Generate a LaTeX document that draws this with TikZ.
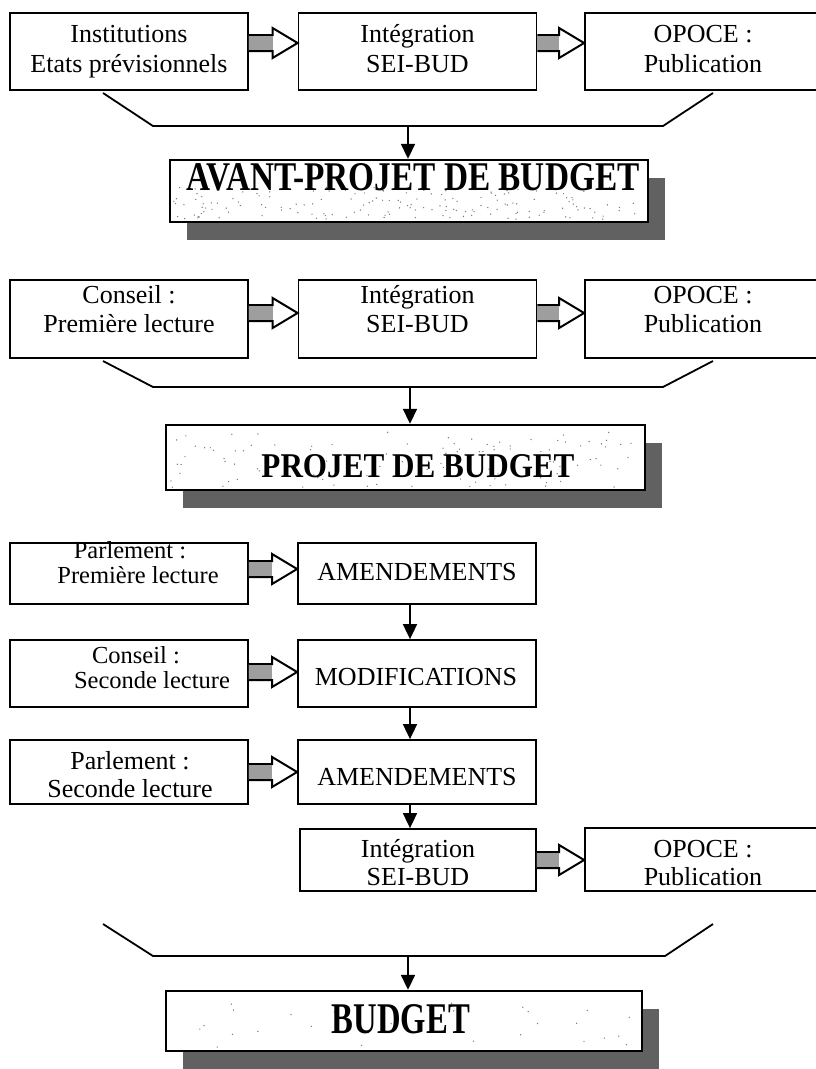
\documentclass[tikz,border=0pt]{standalone}
\usepackage{graphicx}
\usepackage{fontspec}
\setmainfont{Liberation Serif}
\usetikzlibrary{arrows.meta,shadows,calc}

\newcommand\blockarrow[3]{%
  \coordinate (ba-s) at (#1.east |- 0,#3);
  \coordinate (ba-t) at (#2.west |- 0,#3);
  \draw[blk] ([yshift=8pt]ba-s) -- ([xshift=-25pt,yshift=8pt]ba-t) -- ([xshift=-25pt,yshift=15pt]ba-t) -- (ba-t) -- ([xshift=-25pt,yshift=-15pt]ba-t) -- ([xshift=-25pt,yshift=-8pt]ba-t) -- ([yshift=-8pt]ba-s);
  \fill[shaft] ([yshift=7pt]ba-s) rectangle ([xshift=-25pt,yshift=-7pt]ba-t);
}
% speckle texture inside a title box: #1 node, #2 count, #3 width, #4 height
\newcommand\speckle[4]{%
  \foreach \i in {1,...,#2}{%
    \fill[speck] ($(#1.south west)+({5+(#3-10)*rnd},{-4-(#4-8)*rnd})$) circle (0.7pt);
  }%
}

\begin{document}
\begin{tikzpicture}[x=1pt,y=-1pt,
  box/.style={draw, line width=1.8pt, rectangle, inner sep=0pt, fill=white},
  title/.style={draw, line width=2.4pt, rectangle, inner sep=0pt, fill=white,
    drop shadow={shadow xshift=17pt, shadow yshift=-18pt, fill=black!62, opacity=1}},
  txt/.style={inner sep=0pt, anchor=base, font=\fontsize{26}{30}\selectfont},
  small/.style={inner sep=0pt, anchor=base, font=\fontsize{24.5}{28}\selectfont},
  ttl/.style={inner sep=0pt, anchor=base, font=\fontsize{30}{36}\selectfont\bfseries},
  bracket/.style={line width=1.8pt, line join=miter},
  arr/.style={line width=1.8pt, -{Triangle[width=14pt,length=15pt]}},
  blk/.style={line width=2pt, fill=white, line join=miter},
  shaft/.style={fill=black!38},
  speck/.style={fill=black!55},
  rbox/.style={box, minimum width=238pt}]
\useasboundingbox (0,0) rectangle (816,1069);
\pgfmathsetseed{4321}

% ---------- row 1
\node[rbox, minimum height=77pt] (b11) at (129,51.5) {};
\node[rbox, minimum height=77pt] (b12) at (417.5,51.5) {};
\node[box, minimum width=236pt, minimum height=77pt] (b13) at (703,51.5) {};
\node[txt] (b11a) at (129,42) {Institutions};
\node[txt] (b11b) at (129,72) {Etats prévisionnels};
\node[txt] (b12a) at (417.5,42) {Intégration};
\node[txt] (b12b) at (417.5,72) {SEI-BUD};
\node[txt] (b13a) at (703,42) {OPOCE :};
\node[txt] (b13b) at (703,72) {Publication};
\blockarrow{b11}{b12}{43}
\blockarrow{b12}{b13}{43}

\coordinate (k1a) at (103,93);
\coordinate (k1b) at (153,126);
\coordinate (k1c) at (663,126);
\coordinate (k1d) at (713,93);
\coordinate (m1) at (408,126);
\draw[bracket] (k1a) -- (k1b) -- (k1c) -- (k1d);

\node[title, minimum width=478pt, minimum height=62pt] (t1) at (409,191) {};
\speckle{t1}{170}{478}{40}
\node[ttl] (t1t) at (413,190) {\resizebox{453pt}{27pt}{AVANT-PROJET DE BUDGET}};
\draw[arr] (m1) -- (m1 |- t1.north);

% ---------- row 2
\node[rbox, minimum height=78pt] (b21) at (129,319) {};
\node[rbox, minimum height=78pt] (b22) at (417.5,319) {};
\node[box, minimum width=236pt, minimum height=78pt] (b23) at (703,319) {};
\node[txt] (b21a) at (129,303) {Conseil :};
\node[txt] (b21b) at (129,332) {Première lecture};
\node[txt] (b22a) at (417.5,303) {Intégration};
\node[txt] (b22b) at (417.5,332) {SEI-BUD};
\node[txt] (b23a) at (703,303) {OPOCE :};
\node[txt] (b23b) at (703,332) {Publication};
\blockarrow{b21}{b22}{313}
\blockarrow{b22}{b23}{313}

\coordinate (k2a) at (103,361);
\coordinate (k2b) at (153,387);
\coordinate (k2c) at (663,387);
\coordinate (k2d) at (713,361);
\coordinate (m2) at (410,387);
\draw[bracket] (k2a) -- (k2b) -- (k2c) -- (k2d);

\node[title, minimum width=479pt, minimum height=65pt] (t2) at (405.5,457.5) {};
\speckle{t2}{110}{479}{65}
\node[ttl] (t2t) at (418,477) {\resizebox{313pt}{23pt}{PROJET DE BUDGET}};
\draw[arr] (m2) -- (m2 |- t2.north);

% ---------- rows 3-5
\node[rbox, minimum height=61pt] (b31) at (129,573.5) {};
\node[rbox, minimum height=61pt] (b32) at (417,573.5) {};
\node[small] (b31a) at (130,558) {Parlement :};
\node[small] (b31b) at (138,583) {Première lecture};
\node[txt] (b32a) at (417,580) {AMENDEMENTS};
\blockarrow{b31}{b32}{569}

\node[rbox, minimum height=67pt] (b41) at (129,673.5) {};
\node[rbox, minimum height=67pt] (b42) at (417,673.5) {};
\node[small] (b41a) at (136,663) {Conseil :};
\node[small] (b41b) at (152,688) {Seconde lecture};
\node[txt] (b42a) at (416,685) {MODIFICATIONS};
\blockarrow{b41}{b42}{672}

\node[rbox, minimum height=64pt] (b51) at (129,772) {};
\node[rbox, minimum height=64pt] (b52) at (417,772) {};
\node[txt] (b51a) at (130,769) {Parlement :};
\node[txt] (b51b) at (130,797) {Seconde lecture};
\node[txt] (b52a) at (417,785) {AMENDEMENTS};
\blockarrow{b51}{b52}{772}

% ---------- row 6
\node[box, minimum width=236pt, minimum height=62pt] (b61) at (418,860) {};
\node[box, minimum width=236pt, minimum height=63pt] (b62) at (703,859.5) {};
\node[txt] (b61a) at (418,857) {Intégration};
\node[txt] (b61b) at (418,885) {SEI-BUD};
\node[txt] (b62a) at (703,857) {OPOCE :};
\node[txt] (b62b) at (703,885) {Publication};
\blockarrow{b61}{b62}{860}

\draw[arr] ([xshift=-7pt]b32.south) -- ([xshift=-7pt]b42.north);
\draw[arr] ([xshift=-7pt]b42.south) -- ([xshift=-7pt]b52.north);
\draw[arr] ([xshift=-7pt]b52.south) -- ([xshift=-7pt]b52.south |- b61.north);

\coordinate (k3a) at (103,924);
\coordinate (k3b) at (153,956);
\coordinate (k3c) at (665,956);
\coordinate (k3d) at (713,924);
\coordinate (m3) at (408,956);
\draw[bracket] (k3a) -- (k3b) -- (k3c) -- (k3d);

\node[title, minimum width=476pt, minimum height=60pt] (t3) at (404,1021) {};
\speckle{t3}{30}{476}{60}
\node[ttl] (t3t) at (401,1033) {\resizebox{138pt}{29pt}{BUDGET}};
\draw[arr] (m3) -- (m3 |- t3.north);
\end{tikzpicture}
\end{document}
